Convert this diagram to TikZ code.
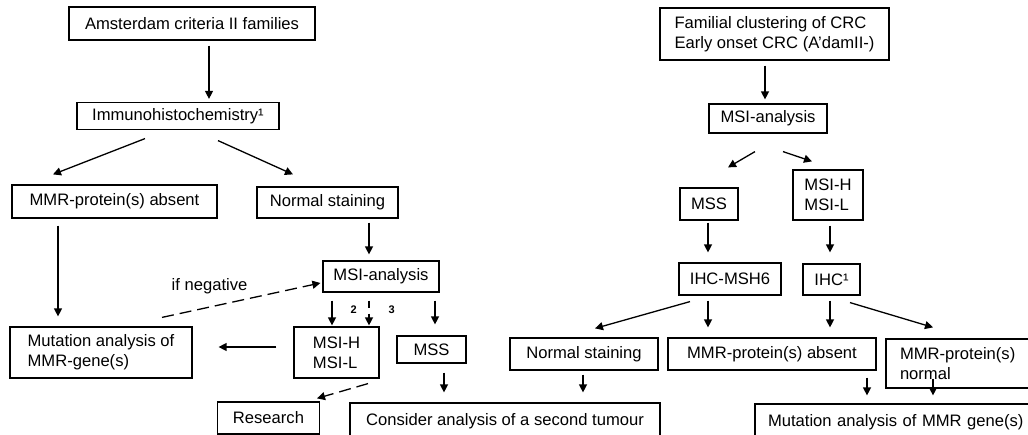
\documentclass[tikz,border=0pt]{standalone}
\usepackage{fontspec}
\setmainfont{Liberation Sans}
\usetikzlibrary{arrows.meta}

\begin{document}
\begin{tikzpicture}[x=1pt, y=-1pt,
  font=\fontsize{16.6}{20}\selectfont,
  box/.style={draw, line width=1.2pt, inner sep=2pt, align=left},
  arr/.style={line width=1.3pt, -{Triangle[width=8pt,length=8pt]}},
  dash arr/.style={arr, dash pattern=on 12pt off 6pt},
  num/.style={font=\fontsize{11}{12}\selectfont\bfseries, inner sep=0pt}]
\useasboundingbox (0,0) rectangle (1028,435);
\clip (0,0) rectangle (1028,435);

\node[box, minimum width=246pt, minimum height=33pt] (ams) at (192,23.5) {Amsterdam criteria II families};
\node[box, minimum width=202pt, minimum height=27pt] (ihc) at (178,116) {Immunohistochemistry¹};
\node[box, minimum width=205pt, minimum height=33pt] (mmrabs) at (114.5,201.5) {MMR-protein(s) absent};
\node[box, minimum width=141pt, minimum height=31pt] (normstain) at (327.5,202.5) {Normal staining};
\node[box, minimum width=116pt, minimum height=31pt] (msi) at (381,276.5) {MSI-analysis};
\node[box, minimum width=182pt, minimum height=51pt] (mutation) at (101,352.5) {Mutation analysis of\\MMR-gene(s)};
\node[box, minimum width=85pt, minimum height=51pt] (msih) at (336.5,352.5) {MSI-H\\MSI-L};
\node[box, minimum width=69pt, minimum height=27pt] (mss) at (431.5,349.5) {MSS};
\node[box, minimum width=102pt, minimum height=32pt] (research) at (268.5,418) {Research};
\node[box, minimum width=310pt, minimum height=36pt] (consider) at (505,421) {Consider analysis of a second tumour};

\node[box, minimum width=229pt, minimum height=52pt] (famil) at (774.5,34) {Familial clustering of CRC\\Early onset CRC (A'damII-)};
\node[box, minimum width=118pt, minimum height=29pt] (msir) at (768,118.5) {MSI-analysis};
\node[box, minimum width=58pt, minimum height=32pt] (mssr) at (709,204) {MSS};
\node[box, minimum width=70pt, minimum height=50pt] (msihr) at (828,195) {MSI-H\\MSI-L};
\node[box, minimum width=102pt, minimum height=32pt] (ihcmsh) at (730,279) {IHC-MSH6};
\node[box, minimum width=57pt, minimum height=31pt] (ihcr) at (831.5,279.5) {IHC¹};
\node[box, minimum width=148pt, minimum height=32pt] (normr) at (584,354) {Normal staining};
\node[box, minimum width=208pt, minimum height=32pt] (mmrabsr) at (772,354) {MMR-protein(s) absent};
\node[box, minimum width=154pt, minimum height=49pt, text width=126pt] (mmrnorm) at (963,363.5) {MMR-protein(s)\\normal};
\node[box, minimum width=285pt, minimum height=36pt, text width=259pt] (mutr) at (897.5,422) {Mutation analysis of MMR gene(s)};

\draw[arr, shorten <=5pt, shorten >=3pt] ([xshift=17pt]ams.south) -- ([xshift=17pt]ams.south |- ihc.north);
\draw[arr] ([xshift=-33pt,yshift=-8.5pt]ihc.south) -- ([xshift=-61.5pt,yshift=10pt]mmrabs.north);
\draw[arr] ([xshift=40pt,yshift=-10.5pt]ihc.south) -- ([xshift=-34.5pt,yshift=12pt]normstain.north);
\draw[arr, shorten <=7pt, shorten >=10pt] ([xshift=-56.5pt]mmrabs.south) -- ([xshift=-56.5pt]mmrabs.south |- mutation.north);
\draw[arr, shorten <=4pt, shorten >=6pt] ([xshift=41.5pt]normstain.south) -- ([xshift=41.5pt]normstain.south |- msi.north);
\draw[dash arr] ([xshift=61pt,yshift=9pt]mutation.north) -- node[pos=.3, above=12pt, inner sep=0pt] {if negative} ([xshift=-2pt,yshift=-6.5pt]msi.west);
\draw[arr, shorten <=8pt, shorten >=1pt] ([xshift=-49pt]msi.south) -- node[num, right=18pt] {2} ([xshift=-49pt]msi.south |- msih.north);
\draw[dash arr, dash pattern=on 7pt off 6pt, shorten <=8pt, shorten >=1pt] ([xshift=-12pt]msi.south) -- node[num, right=19pt] {3} ([xshift=-12pt]msi.south |- msih.north);
\draw[arr, shorten <=8pt, shorten >=11pt] ([xshift=54pt]msi.south) -- ([xshift=54pt]msi.south |- mss.north);
\draw[arr] ([xshift=-17pt,yshift=5.5pt]msih.west) -- ([xshift=26pt,yshift=5.5pt]mutation.east);
\draw[arr, shorten <=9pt, shorten >=10pt] ([xshift=12.5pt]mss.south) -- ([xshift=12.5pt]mss.south |- consider.north);
\draw[dash arr] ([xshift=31.5pt,yshift=-5pt]msih.south) -- ([xshift=48.5pt,yshift=3pt]research.north);

\draw[arr, shorten <=5pt, shorten >=4pt] ([xshift=-9.5pt]famil.south) -- ([xshift=-9.5pt]famil.south |- msir.north);
\draw[arr] ([xshift=-13pt,yshift=-18pt]msir.south) -- ([xshift=19pt,yshift=20pt]mssr.north);
\draw[arr] ([xshift=15pt,yshift=-18pt]msir.south) -- ([xshift=-16pt,yshift=8pt]msihr.north);
\draw[arr, shorten <=2pt, shorten >=10pt] ([xshift=-1pt]mssr.south) -- ([xshift=-1pt]mssr.south |- ihcmsh.north);
\draw[arr, shorten <=5pt, shorten >=11pt] ([xshift=2pt]msihr.south) -- ([xshift=2pt]msihr.south |- ihcr.north);
\draw[arr] ([xshift=-40pt,yshift=-6pt]ihcmsh.south) -- ([xshift=11pt,yshift=9pt]normr.north);
\draw[arr, shorten <=5pt, shorten >=10pt] ([xshift=-22pt]ihcmsh.south) -- ([xshift=-22pt]ihcmsh.south |- mmrabsr.north);
\draw[arr, shorten <=5pt, shorten >=10pt] ([xshift=-1.5pt]ihcr.south) -- ([xshift=-1.5pt]ihcr.south |- mmrabsr.north);
\draw[arr] ([xshift=18.5pt,yshift=-7pt]ihcr.south) -- ([xshift=-30pt,yshift=11pt]mmrnorm.north);
\draw[arr, shorten <=4pt, shorten >=10pt] ([xshift=-1pt]normr.south) -- ([xshift=-1pt]normr.south |- consider.north);
\draw[arr, shorten <=7pt, shorten >=8pt] ([xshift=95pt]mmrabsr.south) -- ([xshift=95pt]mmrabsr.south |- mutr.north);
\draw[arr, shorten >=8pt] ([xshift=-30pt,yshift=10pt]mmrnorm.south) -- ([xshift=-30pt]mmrnorm.south |- mutr.north);
\end{tikzpicture}
\end{document}
